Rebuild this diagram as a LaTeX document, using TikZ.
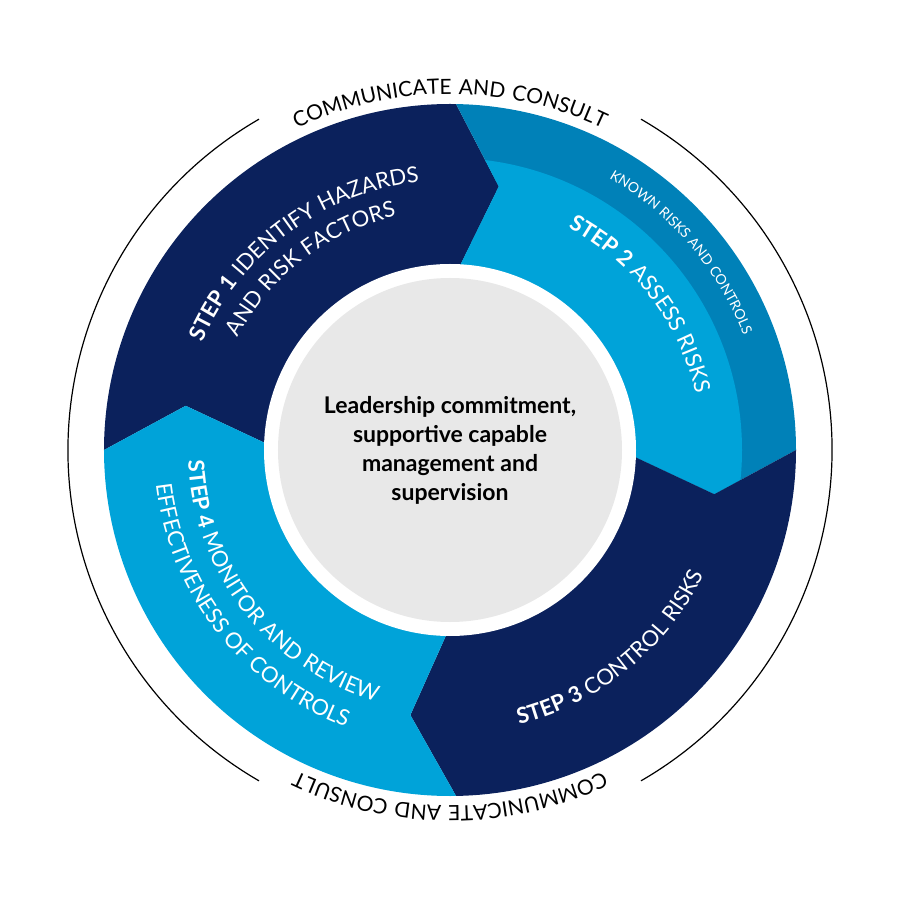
\documentclass[tikz,border=0pt]{standalone}
\usepackage{fontspec}
\setmainfont{Lato}
\usetikzlibrary{decorations.text}
\definecolor{navy}{HTML}{0B215C}
\definecolor{lblue}{HTML}{00A3D9}
\definecolor{band}{HTML}{0081B8}
\definecolor{grey}{HTML}{E8E8E8}
\tikzset{
  arctext/.style={decorate, decoration={text along path, text align=center, text={#1}}},
}
\newcommand{\wf}{\color{white}\fontsize{22}{22}\selectfont\addfontfeature{LetterSpace=3}}
\begin{document}
\begin{tikzpicture}[x=1pt,y=1pt]
\useasboundingbox (-450,-451) rectangle (451,450);
\def\Ro{346}\def\Ri{170}\def\Rt{268}
% step 1
\fill[navy] (180:\Ro) arc[start angle=180,end angle=89,radius=\Ro] -- (79.5:\Rt) -- (89:\Ri) arc[start angle=89,end angle=180,radius=\Ri] -- (170.5:\Rt) -- cycle;
% step 2
\fill[band] (89:\Ro) arc[start angle=89,end angle=0,radius=\Ro] -- (-9.5:\Rt) -- (0:\Ri) arc[start angle=0,end angle=89,radius=\Ri] -- (79.5:\Rt) -- cycle;
\begin{scope}
\clip (0,0) circle[radius=292];
\fill[lblue] (89:\Ro) arc[start angle=89,end angle=0,radius=\Ro] -- (-9.5:\Rt) -- (0:\Ri) arc[start angle=0,end angle=89,radius=\Ri] -- (79.5:\Rt) -- cycle;
\end{scope}
% step 3
\fill[navy] (0:\Ro) arc[start angle=0,end angle=-89,radius=\Ro] -- (-98.5:\Rt) -- (-89:\Ri) arc[start angle=-89,end angle=0,radius=\Ri] -- (-9.5:\Rt) -- cycle;
% step 4
\fill[lblue] (271:\Ro) arc[start angle=271,end angle=180,radius=\Ro] -- (170.5:\Rt) -- (180:\Ri) arc[start angle=180,end angle=271,radius=\Ri] -- (261.5:\Rt) -- cycle;
% centre
\fill[white] (0,0) circle[radius=186];
\node[circle, fill=grey, minimum size=344pt, align=center, font=\bfseries\fontsize{23}{29}\selectfont] (c) at (0,0) {Leadership commitment,\\supportive capable\\management and\\supervision};
% outer ring
\draw[line width=1.2pt] (120:382) arc[start angle=120,end angle=240,radius=382];
\draw[line width=1.2pt] (-60:382) arc[start angle=-60,end angle=60,radius=382];
\path[arctext={|\fontsize{21}{21}\selectfont\addfontfeature{LetterSpace=6}|COMMUNICATE AND CONSULT}] (125:356) arc[start angle=125,end angle=55,radius=356];
\path[arctext={|\fontsize{21}{21}\selectfont\addfontfeature{LetterSpace=6}|COMMUNICATE AND CONSULT}] (-55:356) arc[start angle=-55,end angle=-125,radius=356];
% step labels
\path[arctext={|\wf\bfseries|STEP 1 |\wf|IDENTIFY HAZARDS}] (165:270) arc[start angle=165,end angle=88,radius=270];
\path[arctext={|\wf|AND RISK FACTORS}] (160:240) arc[start angle=160,end angle=95,radius=240];
\path[arctext={|\wf\bfseries|STEP 2 |\wf|ASSESS RISKS}] (72:252) arc[start angle=72,end angle=3,radius=252];
\path[arctext={|\color{white}\fontsize{14}{14}\selectfont\addfontfeature{LetterSpace=3}|KNOWN RISKS AND CONTROLS}] (68:315) arc[start angle=68,end angle=13,radius=315];
\path[arctext={|\wf\bfseries|STEP 3 |\wf|CONTROL RISKS}] (-86:283) arc[start angle=-86,end angle=-16,radius=283];
\path[arctext={|\wf\bfseries|STEP 4 |\wf|MONITOR AND REVIEW}] (172:262) arc[start angle=172,end angle=264,radius=262];
\path[arctext={|\wf|EFFECTIVENESS OF CONTROLS}] (176:296) arc[start angle=176,end angle=260,radius=296];
\end{tikzpicture}
\end{document}
